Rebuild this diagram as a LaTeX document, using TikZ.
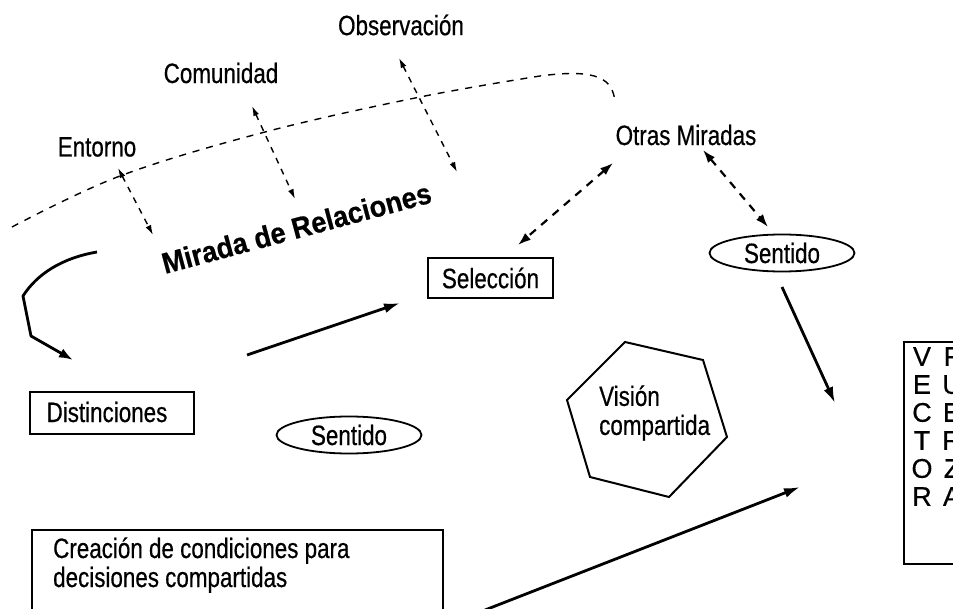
\documentclass[tikz,border=0pt]{standalone}
\usepackage{fontspec}
\setmainfont{Liberation Sans}[FakeStretch=0.8, FakeBold=0.5]
\newfontfamily\plainsans{Liberation Sans}[FakeBold=0.4]
\newfontfamily\mirfont{Liberation Sans Bold}[FakeStretch=0.92, FakeBold=0.6]
\usetikzlibrary{arrows.meta,shapes.geometric}
\begin{document}
\begin{tikzpicture}[x=1pt,y=-1pt,
  lbl/.style={font=\fontsize{28}{29}\selectfont, inner sep=0pt},
  boxed/.style={draw, line width=2pt, inner sep=0pt},
  oval/.style={draw, ellipse, line width=1.8pt, inner sep=0pt, minimum width=145pt, minimum height=37pt, font=\fontsize{28}{29}\selectfont},
  solidarrow/.style={line width=2.8pt, -{Latex[length=16pt,width=10pt]}},
  thindash/.style={line width=1.4pt, dash pattern=on 6pt off 6pt, {Latex[length=10pt,width=6pt]}-{Latex[length=10pt,width=6pt]}},
  thickdash/.style={line width=2.2pt, dash pattern=on 8pt off 7pt, {Latex[length=13pt,width=9pt]}-{Latex[length=13pt,width=9pt]}},
  curvedash/.style={line width=1.4pt, dash pattern=on 7pt off 7pt}]
\clip (0,0) rectangle (953,609);
\fill[white] (0,0) rectangle (953,609);

% labels
\node[lbl] (obs) at (401,25) {Observación};
\node[lbl] (com) at (221,73) {Comunidad};
\node[lbl] (ent) at (97,147) {Entorno};
\node[lbl] (otras) at (686,135) {Otras Miradas};
\node[font=\mirfont\fontsize{29.5}{30}\selectfont, inner sep=0pt, rotate=15, anchor=base west] (mirada) at (165,274) {Mirada de Relaciones};

% boxes
\node[boxed, minimum width=125pt, minimum height=40pt, font=\fontsize{28}{29}\selectfont] (sel) at (490.5,278) {Selección};
\node[boxed, minimum width=164pt, minimum height=42pt, anchor=north west] (distbox) at (29,391) {};
\node[lbl] (dist) at (107,412) {Distinciones};
\node[oval] (sent1) at (782,253) {Sentido};
\node[oval] (sent2) at (349,435) {Sentido};

% creation box
\node[boxed, minimum width=411pt, minimum height=120pt, anchor=north west] (crebox) at (31,529) {};
\node[lbl, anchor=base west] (cre1) at (53,558) {Creación de condiciones para};
\node[lbl, anchor=base west] (cre2) at (53,587) {decisiones compartidas};

% hexagon
\draw[line width=2pt, line join=miter] (625,342) -- (703,360) -- (727,437) -- (669,497) -- (590,477) -- (567,400) -- cycle;
\node[lbl, align=left, anchor=west] (vision) at (599,413) {Visión\\compartida};

% vector box
\node[boxed, minimum width=100pt, minimum height=222pt, anchor=north west] (vecbox) at (903,341) {};
\node[font=\plainsans\fontsize{27}{28}\selectfont, inner sep=0pt, align=center, anchor=north] (vec) at (922,347) {V\\E\\C\\T\\O\\R};
\node[font=\plainsans\fontsize{27}{28}\selectfont, inner sep=0pt, align=center, anchor=north] (fue) at (952,347) {F\\U\\E\\R\\Z\\A};

% dashed relation curve
\coordinate (c0) at (12,227);
\coordinate (c2) at (615,101);
\draw[curvedash] plot[smooth, tension=0.6] coordinates {(c0) (120,176) (265,132) (420,97) (540,76)} .. controls (600,68) and (612,80) .. (c2);

% dashed double arrows
\coordinate (e1) at (118,168); \coordinate (e2) at (153,235);
\coordinate (m1) at (252,106); \coordinate (m2) at (295,199);
\coordinate (o1) at (399,58);  \coordinate (o2) at (457,172);
\draw[thindash] (e1) -- (e2);
\draw[thindash] (m1) -- (m2);
\draw[thindash] (o1) -- (o2);
\coordinate (os1) at (613,163); \coordinate (os2) at (518,245);
\coordinate (ot1) at (703,150); \coordinate (ot2) at (768,227);
\draw[thickdash] (os1) -- (os2);
\draw[thickdash] (ot1) -- (ot2);

% solid arrows
\coordinate (a1) at (247,355); \coordinate (a2) at (400,303);
\draw[solidarrow] (a1) -- (a2);
\coordinate (b1) at (485,610); \coordinate (b2) at (800,487);
\draw[solidarrow] (b1) -- (b2);
\coordinate (r1) at (782,287); \coordinate (r2) at (835,403);
\draw[solidarrow] (r1) -- (r2);
\coordinate (k0) at (97,252); \coordinate (k1) at (23,296); \coordinate (k2) at (31,336); \coordinate (k3) at (73,360);
\draw[line width=2.8pt, line join=round, -{Latex[length=14pt,width=10pt]}] (k0) .. controls (62,258) and (37,274) .. (k1) -- (k2) -- (k3);
\end{tikzpicture}
\end{document}
